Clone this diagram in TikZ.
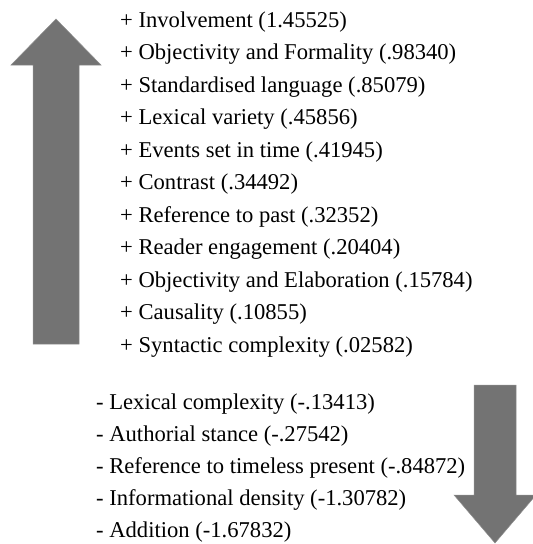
\documentclass[tikz,border=0pt]{standalone}
\usepackage{fontspec}
\setmainfont{Liberation Serif}
\definecolor{arrowgray}{RGB}{115,115,115}
\begin{document}
\begin{tikzpicture}[x=1pt,y=-1pt,
  item/.style={anchor=base west,inner sep=0pt,font=\fontsize{22.6}{27}\selectfont},
  bigarrow/.style={fill=arrowgray,draw=arrowgray!80!white,line width=0.5pt}]
\useasboundingbox (0,0) rectangle (533,544);
\begin{scope}
\clip (0,0) rectangle (533,544);
\path[bigarrow] (56,19) -- (101,65) -- (79,65) -- (79,344) -- (33,344) -- (33,65) -- (11,65) -- cycle;
\path[bigarrow] (474,385) -- (516,385) -- (516,495) -- (536,495) -- (495,543) -- (454,495) -- (474,495) -- cycle;
\end{scope}
\foreach \t [count=\i from 0] in {
  {+ Involvement (1.45525)},
  {+ Objectivity and Formality (.98340)},
  {+ Standardised language (.85079)},
  {+ Lexical variety (.45856)},
  {+ Events set in time (.41945)},
  {+ Contrast (.34492)},
  {+ Reference to past (.32352)},
  {+ Reader engagement (.20404)},
  {+ Objectivity and Elaboration (.15784)},
  {+ Causality (.10855)},
  {+ Syntactic complexity (.02582)}}
  \node[item] (p\i) at (120,27+32.5*\i) {\t};
\foreach \t [count=\i from 0] in {
  {- Lexical complexity (-.13413)},
  {- Authorial stance (-.27542)},
  {- Reference to timeless present (-.84872)},
  {- Informational density (-1.30782)},
  {- Addition (-1.67832)}}
  \node[item] (m\i) at (96,409+32*\i) {\t};
\end{tikzpicture}
\end{document}
